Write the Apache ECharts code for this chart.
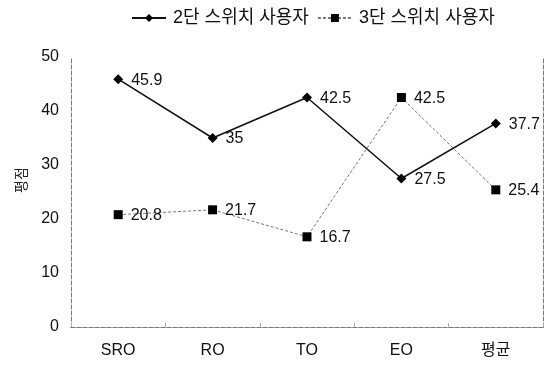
<!DOCTYPE html>
<html>
<head>
<meta charset="utf-8">
<script src="https://cdn.jsdelivr.net/npm/echarts@6/dist/echarts.min.js"></script>
<style>
html,body{margin:0;padding:0;background:#fff;}
#chart{width:553px;height:370px;}
</style>
</head>
<body>
<div id="chart"></div>
<script>
// Ratings by task type for two switch groups
const categories = ['SRO', 'RO', 'TO', 'EO', '평균'];
const twoStepUsers = [45.9, 35, 42.5, 27.5, 37.7];
const threeStepUsers = [20.8, 21.7, 16.7, 42.5, 25.4];
const seriesNames = ['2단 스위치 사용자', '3단 스위치 사용자'];
const yTicks = [0, 10, 20, 30, 40, 50];

const FONT = '"Liberation Sans", "Noto Sans CJK KR", sans-serif';
const borderLine = { show: true, lineStyle: { color: '#777', width: 1, type: [4, 2] } };

const chart = echarts.init(document.getElementById('chart'), null, { renderer: 'canvas' });

const valueLabel = {
  show: true,
  position: 'right',
  distance: 8,
  offset: [0, 1],
  fontSize: 16,
  color: '#111',
  fontFamily: FONT
};

chart.setOption({
  backgroundColor: '#fff',
  animation: false,
  textStyle: { fontFamily: FONT },
  legend: {
    top: 4,
    left: 126,
    itemGap: 8,
    itemWidth: 34,
    itemHeight: 10,
    textStyle: { fontFamily: FONT, fontSize: 18, color: '#111', padding: [0, 0, 0, 2] },
    data: seriesNames
  },
  grid: { left: 71, right: 10, top: 57, bottom: 43, containLabel: false },
  xAxis: [
    {
      type: 'category',
      data: categories,
      boundaryGap: true,
      axisLine: borderLine,
      axisTick: { show: true, inside: true, length: 4, lineStyle: { color: '#aaa' } },
      axisLabel: { color: '#111', fontSize: 16, margin: 16, fontFamily: FONT },
      splitLine: { show: false }
    },
    {
      type: 'category',
      position: 'top',
      data: categories,
      axisLine: borderLine,
      axisTick: { show: false },
      axisLabel: { show: false }
    }
  ],
  yAxis: [
    {
      type: 'value',
      min: yTicks[0],
      max: yTicks[yTicks.length - 1],
      interval: yTicks[1] - yTicks[0],
      name: '평점',
      nameLocation: 'middle',
      nameGap: 42,
      nameTextStyle: { fontSize: 14, color: '#222', fontFamily: FONT, padding: [0, 0, 0, 24] },
      axisLine: borderLine,
      axisTick: { show: false },
      axisLabel: { color: '#111', fontSize: 16, margin: 12, fontFamily: FONT },
      splitLine: { show: false }
    },
    {
      type: 'value',
      position: 'right',
      min: yTicks[0],
      max: yTicks[yTicks.length - 1],
      interval: yTicks[1] - yTicks[0],
      axisLine: borderLine,
      axisTick: { show: false },
      axisLabel: { show: false },
      splitLine: { show: false }
    }
  ],
  series: [
    {
      name: seriesNames[0],
      type: 'line',
      data: twoStepUsers,
      symbol: 'diamond',
      symbolSize: 10,
      itemStyle: { color: '#000' },
      lineStyle: { color: '#111', width: 1.5 },
      label: valueLabel,
      z: 3
    },
    {
      name: seriesNames[1],
      type: 'line',
      data: threeStepUsers,
      symbol: 'rect',
      symbolSize: 9,
      itemStyle: { color: '#000' },
      lineStyle: { color: '#777', width: 1, type: [3, 2] },
      label: valueLabel,
      z: 2
    }
  ]
});
</script>
</body>
</html>
